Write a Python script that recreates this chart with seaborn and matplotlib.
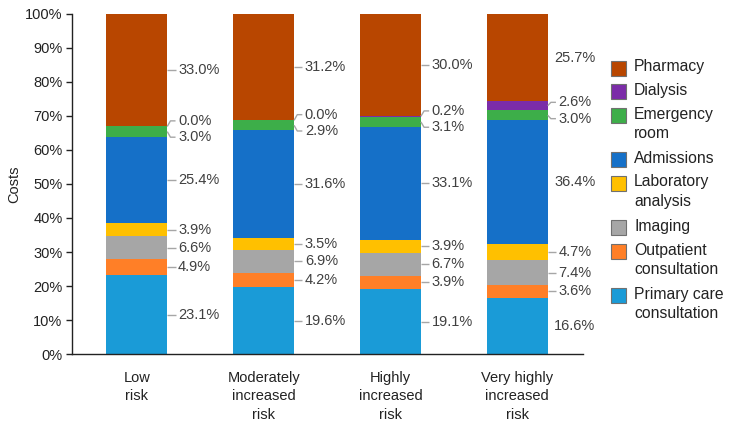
import seaborn as sns
import matplotlib.pyplot as plt
import matplotlib.patches as mpatches
import numpy as np
import pandas as pd

# categories (x) and cost components, bottom -> top of each bar
groups = ["Low\nrisk", "Moderately\nincreased\nrisk", "Highly\nincreased\nrisk", "Very highly\nincreased\nrisk"]
components = ["Primary care\nconsultation", "Outpatient\nconsultation", "Imaging", "Laboratory\nanalysis",
              "Admissions", "Emergency\nroom", "Dialysis", "Pharmacy"]

primary_care = [23.1, 19.6, 19.1, 16.6]
outpatient = [4.9, 4.2, 3.9, 3.6]
imaging = [6.6, 6.9, 6.7, 7.4]
laboratory = [3.9, 3.5, 3.9, 4.7]
admissions = [25.4, 31.6, 33.1, 36.4]
emergency = [3.0, 2.9, 3.1, 3.0]
dialysis = [0.0, 0.0, 0.2, 2.6]
pharmacy = [33.0, 31.2, 30.0, 25.7]

colors = ["#1A9BD7", "#FF7F27", "#A6A6A6", "#FFC000", "#1570C8", "#3DAE49", "#7B2CA8", "#B84600"]

values = np.array([primary_care, outpatient, imaging, laboratory,
                   admissions, emergency, dialysis, pharmacy])
cum = values.cumsum(axis=0)

df = pd.DataFrame(cum.T, columns=components)
df["group"] = groups

sns.set_style("white")
plt.rcParams['font.family'] = ['Liberation Sans', 'DejaVu Sans']

W, H = 729, 421
fig = plt.figure(figsize=(W / 100, H / 100), dpi=100)
ax = fig.add_axes([0.099, 0.159, 0.701, 0.808])

bar_w = 0.48
# draw cumulative totals from the top layer down, each one covering the lower part
for k in range(len(components) - 1, -1, -1):
    sns.barplot(data=df, x="group", y=components[k], color=colors[k], width=bar_w,
                saturation=1, errorbar=None, ax=ax, linewidth=0)


def spread(mids, gap):
    ys = list(mids)
    for _ in range(200):
        moved = False
        for i in range(1, len(ys)):
            d = ys[i] - ys[i - 1]
            if d < gap - 1e-6:
                s = (gap - d) / 2
                ys[i] += s
                ys[i - 1] -= s
                moved = True
        if not moved:
            break
    return ys


text_col = "#404040"
line_col = "#A6A6A6"
for g in range(len(groups)):
    mids = cum[:, g] - values[:, g] / 2
    ys = spread(mids, 4.8)
    edge = g + bar_w / 2
    last = g == len(groups) - 1
    for k in range(len(components)):
        if last and values[k, g] > 10:
            ax.text(edge + 0.05, ys[k], f"{values[k, g]:.1f}%", ha="left", va="center",
                    fontsize=10.5, color=text_col)
            continue
        ax.plot([edge, edge + 0.025, edge + 0.065], [mids[k], ys[k], ys[k]],
                color=line_col, lw=1, solid_capstyle="butt", clip_on=False)
        ax.text(edge + 0.085, ys[k], f"{values[k, g]:.1f}%", ha="left", va="center",
                fontsize=10.5, color=text_col)

ax.set_xlim(-0.51, 3.52)
ax.set_ylim(0, 100)
ax.set_yticks(range(0, 101, 10))
ax.set_yticklabels([f"{v}%" for v in range(0, 101, 10)], fontsize=10.5, color="#222222")
ax.set_xticks(range(len(groups)))
ax.set_xticklabels(groups, fontsize=10.5, color="#222222", linespacing=1.4)
ax.set_xlabel("")
ax.set_ylabel("Costs", fontsize=10.5, color="#222222", labelpad=3)
ax.tick_params(axis="y", length=4, width=1, color="#222222", direction="out", left=True, pad=3)
ax.tick_params(axis="x", length=0, pad=12)
sns.despine(ax=ax)
for s in ["left", "bottom"]:
    ax.spines[s].set_color("#222222")
    ax.spines[s].set_linewidth(1)

# legend drawn by hand so the swatch sits beside the first line of each label
y_px = 68
for k in range(len(components) - 1, -1, -1):
    nlines = components[k].count("\n") + 1
    fig.patches.append(mpatches.Rectangle((611 / W, 1 - (y_px + 7.5) / H), 15 / W, 15 / H,
                                          facecolor=colors[k], edgecolor="#707070", linewidth=0.8,
                                          transform=fig.transFigure))
    fig.text(634 / W, 1 - (y_px - 8.5) / H, components[k], ha="left", va="top", fontsize=11.3,
             color="#222222", linespacing=1.35)
    y_px += 23.5 + 21 * (nlines - 1)

fig.savefig("out.png", dpi=100)
